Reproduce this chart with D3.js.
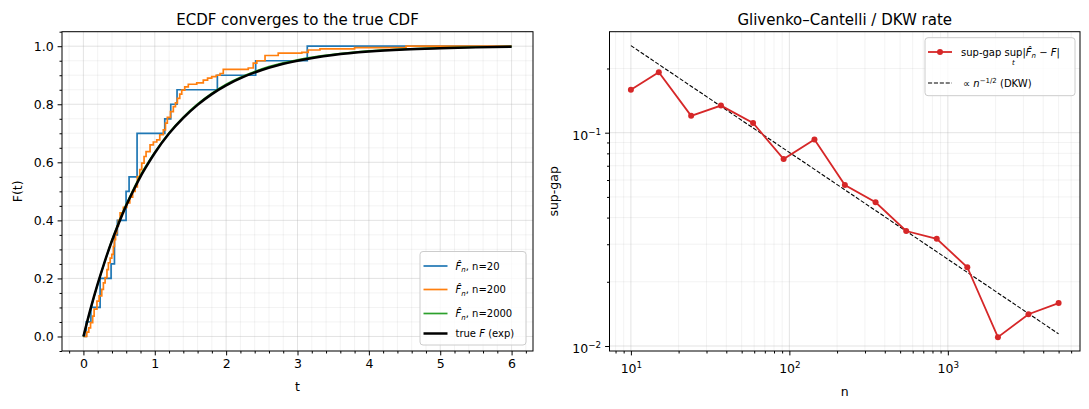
<!DOCTYPE html>
<html>
<head>
<meta charset="utf-8">
<script src="https://cdn.jsdelivr.net/npm/d3@7"></script>
<style>
  body { margin: 0; background: #fff; }
  svg { font-family: "DejaVu Sans", sans-serif; }
</style>
</head>
<body>
<div id="chart"></div>
<script>
// ---- data ----
const samples20 = [0.04, 0.105, 0.234, 0.234, 0.388, 0.435, 0.435, 0.476, 0.598, 0.598,
  0.64, 0.752, 0.752, 0.752, 1.14, 1.224, 1.312, 1.877, 2.414, 3.137];

const ecdf200T = [0, 0.047, 0.075, 0.10, 0.13, 0.15, 0.19, 0.22, 0.257, 0.28, 0.304, 0.33, 0.35,
  0.375, 0.398, 0.42, 0.435, 0.45, 0.468, 0.49, 0.514, 0.56, 0.608, 0.65, 0.69, 0.724, 0.756,
  0.79, 0.818, 0.85, 0.878, 0.934, 0.98, 1.028, 1.07, 1.12, 1.15, 1.176, 1.22, 1.26, 1.29,
  1.317, 1.35, 1.378, 1.42, 1.47, 1.588, 1.68, 1.74, 1.798, 1.86, 1.915, 1.96, 2.31, 2.38,
  2.43, 2.545, 2.73, 3.06, 3.15, 3.315, 3.8, 4.52, 6.0];
const ecdf200F = [0, 0.015, 0.03, 0.048, 0.07, 0.094, 0.122, 0.14, 0.162, 0.185, 0.203, 0.23, 0.254,
  0.27, 0.283, 0.31, 0.334, 0.355, 0.38, 0.40, 0.426, 0.445, 0.46, 0.48, 0.50, 0.515, 0.551,
  0.575, 0.597, 0.62, 0.637, 0.66, 0.67, 0.677, 0.695, 0.712, 0.735, 0.755, 0.775, 0.792, 0.805,
  0.82, 0.835, 0.849, 0.86, 0.869, 0.874, 0.883, 0.89, 0.895, 0.90, 0.906, 0.92, 0.925, 0.942,
  0.95, 0.968, 0.976, 0.979, 0.987, 0.991, 0.995, 1.0, 1.0];

const ecdf2000T = [0, 0.1, 0.2, 0.3, 0.4, 0.5, 0.6, 0.7, 0.8, 0.9, 1.0, 1.2, 1.4, 1.6, 1.8, 2.0,
  2.2, 2.4, 2.6, 2.8, 3.0, 3.3, 3.6, 4.0, 4.5, 5.0, 5.5, 6.0];
const ecdf2000F = [0, 0.093, 0.18, 0.258, 0.332, 0.396, 0.455, 0.507, 0.556, 0.597, 0.635, 0.702,
  0.756, 0.801, 0.838, 0.869, 0.893, 0.913, 0.93, 0.943, 0.953, 0.966, 0.975, 0.984, 0.99,
  0.994, 0.997, 0.9985];

const trueT = [0, 0.1, 0.2, 0.3, 0.4, 0.5, 0.6, 0.7, 0.8, 0.9, 1.0, 1.2, 1.4, 1.6, 1.8, 2.0,
  2.25, 2.5, 2.75, 3.0, 3.5, 4.0, 4.5, 5.0, 5.5, 6.0];
const trueF = [0, 0.095, 0.181, 0.259, 0.330, 0.393, 0.451, 0.503, 0.551, 0.593, 0.632, 0.699,
  0.753, 0.798, 0.835, 0.865, 0.895, 0.918, 0.936, 0.950, 0.970, 0.982, 0.989, 0.993, 0.996, 0.998];

const nValues = [10, 15, 24, 37, 59, 92, 144, 224, 350, 546, 851, 1327, 2070, 3228, 5000];
const supGap = [0.159, 0.192, 0.120, 0.134, 0.111, 0.0753, 0.093, 0.0568, 0.0472, 0.0346,
  0.0318, 0.0234, 0.0110, 0.0141, 0.0159];
const dkwN = [10, 5000];
const dkwGap = [0.256, 0.0114];

const xTicksLeft = [0, 1, 2, 3, 4, 5, 6];
const yTicksLeft = [0, 0.2, 0.4, 0.6, 0.8, 1.0];

// ---- layout ----
const W = 1089, H = 409;
const yTop = 31.7, yBot = 351;
const L = { x0: 62, x1: 533 };
const R = { x0: 609.5, x1: 1080 };
const gridColor = "#b0b0b0";

const svg = d3.select("#chart").append("svg").attr("width", W).attr("height", H);

const xL = d3.scaleLinear().domain([-0.3, 6.3]).range([L.x0, L.x1]);
const yL = d3.scaleLinear().domain([-0.05, 1.05]).range([yBot, yTop]);
const xR = d3.scaleLog().domain([Math.pow(10, 0.865), Math.pow(10, 3.834)]).range([R.x0, R.x1]);
const yR = d3.scaleLog().domain([Math.pow(10, -2.0234), Math.pow(10, -0.5265)]).range([yBot, yTop]);

const stepRange = (a, b, s) => d3.range(Math.round(a / s), Math.round(b / s) + 1).map(i => +(i * s).toFixed(4));
const minorXL = stepRange(-0.2, 6.2, 0.2).filter(v => Math.abs(v - Math.round(v)) > 1e-6);
const minorYL = stepRange(-0.05, 1.05, 0.05).filter(v => Math.abs(v * 5 - Math.round(v * 5)) > 1e-6);
const minorXR = [8, 9].concat(d3.range(2, 10).map(d => d * 10), d3.range(2, 10).map(d => d * 100),
  d3.range(2, 7).map(d => d * 1000));
const minorYR = d3.range(2, 10).map(d => d / 100).concat([0.2, 0.3]).filter(v => yR(v) >= yTop);

// ---- grids ----
function vGrid(scale, vals, op) {
  svg.append("g").selectAll("line").data(vals).enter().append("line")
    .attr("x1", d => scale(d)).attr("x2", d => scale(d))
    .attr("y1", yTop).attr("y2", yBot)
    .attr("stroke", gridColor).attr("stroke-opacity", op).attr("stroke-width", 0.9);
}
function hGrid(scale, vals, x0, x1, op) {
  svg.append("g").selectAll("line").data(vals).enter().append("line")
    .attr("y1", d => scale(d)).attr("y2", d => scale(d))
    .attr("x1", x0).attr("x2", x1)
    .attr("stroke", gridColor).attr("stroke-opacity", op).attr("stroke-width", 0.9);
}
vGrid(xL, minorXL, 0.17); hGrid(yL, minorYL, L.x0, L.x1, 0.17);
vGrid(xL, xTicksLeft, 0.4); hGrid(yL, yTicksLeft, L.x0, L.x1, 0.4);
vGrid(xR, minorXR, 0.17); hGrid(yR, minorYR, R.x0, R.x1, 0.17);
vGrid(xR, [10, 100, 1000], 0.4); hGrid(yR, [0.01, 0.1], R.x0, R.x1, 0.4);

// ---- left panel lines ----
const sorted20 = samples20.slice().sort(d3.ascending);
const steps20 = [[0, 0]];
d3.groups(sorted20, d => d).forEach(([v]) => {
  steps20.push([v, d3.bisectRight(sorted20, v) / sorted20.length]);
});
steps20.push([6, 1]);

const stepLine = d3.line().x(d => xL(d[0])).y(d => yL(d[1])).curve(d3.curveStepAfter);
const smoothLine = d3.line().x(d => xL(d[0])).y(d => yL(d[1])).curve(d3.curveMonotoneX);

svg.append("path").datum(steps20).attr("d", stepLine)
  .attr("fill", "none").attr("stroke", "#1f77b4").attr("stroke-width", 1.7);
svg.append("path").datum(ecdf200T.map((t, i) => [t, ecdf200F[i]])).attr("d", stepLine)
  .attr("fill", "none").attr("stroke", "#ff7f0e").attr("stroke-width", 1.7);
svg.append("path").datum(ecdf2000T.map((t, i) => [t, ecdf2000F[i]])).attr("d", smoothLine)
  .attr("fill", "none").attr("stroke", "#2ca02c").attr("stroke-width", 1.7);
svg.append("path").datum(trueT.map((t, i) => [t, trueF[i]])).attr("d", smoothLine)
  .attr("fill", "none").attr("stroke", "#000").attr("stroke-width", 2.5);

// ---- right panel lines ----
const logLine = d3.line().x(d => xR(d[0])).y(d => yR(d[1]));
svg.append("path").datum(dkwN.map((n, i) => [n, dkwGap[i]])).attr("d", logLine)
  .attr("fill", "none").attr("stroke", "#000").attr("stroke-width", 1.1)
  .attr("stroke-dasharray", "4.1,1.8");
svg.append("path").datum(nValues.map((n, i) => [n, supGap[i]])).attr("d", logLine)
  .attr("fill", "none").attr("stroke", "#d62728").attr("stroke-width", 1.8);
svg.append("g").selectAll("circle").data(nValues).enter().append("circle")
  .attr("cx", d => xR(d)).attr("cy", (d, i) => yR(supGap[i])).attr("r", 3)
  .attr("fill", "#d62728");

// ---- axes ----
const tickFont = 12.5;
function styleAxis(g) {
  g.select(".domain").remove();
  g.selectAll("line").attr("stroke", "#000").attr("stroke-width", 1);
  g.selectAll("text").attr("font-size", tickFont).attr("fill", "#000")
    .attr("font-family", "DejaVu Sans, sans-serif");
}
// left
svg.append("g").attr("transform", `translate(0,${yBot})`)
  .call(d3.axisBottom(xL).tickValues(xTicksLeft).tickFormat(d3.format("d")).tickSize(4.4).tickPadding(4)).call(styleAxis);
svg.append("g").attr("transform", `translate(0,${yBot})`)
  .call(d3.axisBottom(xL).tickValues(minorXL).tickFormat("").tickSize(2.5)).call(styleAxis);
svg.append("g").attr("transform", `translate(${L.x0},0)`)
  .call(d3.axisLeft(yL).tickValues(yTicksLeft).tickFormat(d3.format(".1f")).tickSize(4.4).tickPadding(4)).call(styleAxis);
svg.append("g").attr("transform", `translate(${L.x0},0)`)
  .call(d3.axisLeft(yL).tickValues(minorYL).tickFormat("").tickSize(2.5)).call(styleAxis);

// right
function powLabel(sel, expFn) {
  sel.selectAll(".tick text").each(function (d) {
    const t = d3.select(this).text("");
    t.append("tspan").text("10");
    t.append("tspan").attr("font-size", tickFont * 0.7).attr("dy", -5).text(expFn(d));
  });
}
const gxR = svg.append("g").attr("transform", `translate(0,${yBot})`)
  .call(d3.axisBottom(xR).tickValues([10, 100, 1000]).tickSize(4.4).tickPadding(9)).call(styleAxis);
powLabel(gxR, d => String(Math.round(Math.log10(d))));
svg.append("g").attr("transform", `translate(0,${yBot})`)
  .call(d3.axisBottom(xR).tickValues(minorXR).tickFormat("").tickSize(2.5)).call(styleAxis);
const gyR = svg.append("g").attr("transform", `translate(${R.x0},0)`)
  .call(d3.axisLeft(yR).tickValues([0.01, 0.1]).tickSize(4.4).tickPadding(4)).call(styleAxis);
powLabel(gyR, d => "\u2212" + Math.round(-Math.log10(d)));
gyR.selectAll(".tick text").attr("dy", "0.55em");
svg.append("g").attr("transform", `translate(${R.x0},0)`)
  .call(d3.axisLeft(yR).tickValues(minorYR).tickFormat("").tickSize(2.5)).call(styleAxis);

// frames
[L, R].forEach(a => {
  svg.append("rect").attr("x", a.x0).attr("y", yTop).attr("width", a.x1 - a.x0).attr("height", yBot - yTop)
    .attr("fill", "none").attr("stroke", "#000").attr("stroke-width", 1);
});

// titles and labels
function label(x, y, txt, size, rot) {
  const t = svg.append("text").attr("x", x).attr("y", y).attr("text-anchor", "middle")
    .attr("font-size", size).attr("fill", "#000").text(txt);
  if (rot) t.attr("transform", `rotate(-90,${x},${y})`);
  return t;
}
label((L.x0 + L.x1) / 2, 25, "ECDF converges to the true CDF", 15);
label((R.x0 + R.x1) / 2, 25, "Glivenko\u2013Cantelli / DKW rate", 15);
label((L.x0 + L.x1) / 2, 391, "t", 12.5);
label(22, (yTop + yBot) / 2, "F(t)", 12.5, true);
label((R.x0 + R.x1) / 2, 396, "n", 12.5);
label(558, (yTop + yBot) / 2, "sup-gap", 12.5, true);

// ---- legends ----
const legFont = 10;
// text made of tspans: [text, italic, fontSize, dy]
function richText(g, x, y, parts) {
  const t = g.append("text").attr("x", x).attr("y", y).attr("font-size", legFont).attr("fill", "#000");
  parts.forEach(([s, it, fs, dy]) => {
    const sp = t.append("tspan").text(s);
    if (it) sp.attr("font-style", "italic");
    if (fs) sp.attr("font-size", fs);
    if (dy) sp.attr("dy", dy);
  });
  return t;
}
const fHatN = [["F\u0302", true], ["n", true, 7, 2.5]];

const legL = svg.append("g");
legL.append("rect").attr("x", 420).attr("y", 251.5).attr("width", 106).attr("height", 93.5).attr("rx", 3)
  .attr("fill", "#fff").attr("fill-opacity", 0.8).attr("stroke", "#ccc");
const legLRows = [
  { y: 266, c: "#1f77b4", w: 1.7, parts: fHatN.concat([[", n=20", false, null, -2.5]]) },
  { y: 289.5, c: "#ff7f0e", w: 1.7, parts: fHatN.concat([[", n=200", false, null, -2.5]]) },
  { y: 313.5, c: "#2ca02c", w: 1.7, parts: fHatN.concat([[", n=2000", false, null, -2.5]]) },
  { y: 333.5, c: "#000", w: 2.5, parts: [["true "], ["F", true], [" (exp)"]] }
];
legLRows.forEach(r => {
  legL.append("line").attr("x1", 423.5).attr("x2", 447.5).attr("y1", r.y).attr("y2", r.y)
    .attr("stroke", r.c).attr("stroke-width", r.w);
  richText(legL, 455.5, r.y + 3.5, r.parts);
});

const legR = svg.append("g");
legR.append("rect").attr("x", 925).attr("y", 37.7).attr("width", 150).attr("height", 58).attr("rx", 3)
  .attr("fill", "#fff").attr("fill-opacity", 0.8).attr("stroke", "#ccc");
legR.append("line").attr("x1", 928).attr("x2", 952).attr("y1", 52).attr("y2", 52)
  .attr("stroke", "#d62728").attr("stroke-width", 1.8);
legR.append("circle").attr("cx", 940).attr("cy", 52).attr("r", 3).attr("fill", "#d62728");
const row1 = richText(legR, 961, 55.5, [["sup-gap sup"], ["|"], ["F\u0302", true], ["n", true, 7, 2.5],
  [" \u2212 ", false, null, -2.5], ["F", true], ["|"]]);
// subscript t centred under the second "sup"
const n1 = row1.node();
const supX = (n1.getStartPositionOfChar(8).x + n1.getEndPositionOfChar(10).x) / 2;
legR.append("text").attr("x", supX).attr("y", 64.5).attr("text-anchor", "middle")
  .attr("font-size", 7).attr("font-style", "italic").text("t");

legR.append("line").attr("x1", 928).attr("x2", 952).attr("y1", 83).attr("y2", 83)
  .attr("stroke", "#000").attr("stroke-width", 1.1).attr("stroke-dasharray", "4.1,1.8");
richText(legR, 963, 86.5, [["\u221D "], ["n", true], ["\u22121/2", false, 7, -4], [" (DKW)", false, null, 4]]);
</script>
</body>
</html>
